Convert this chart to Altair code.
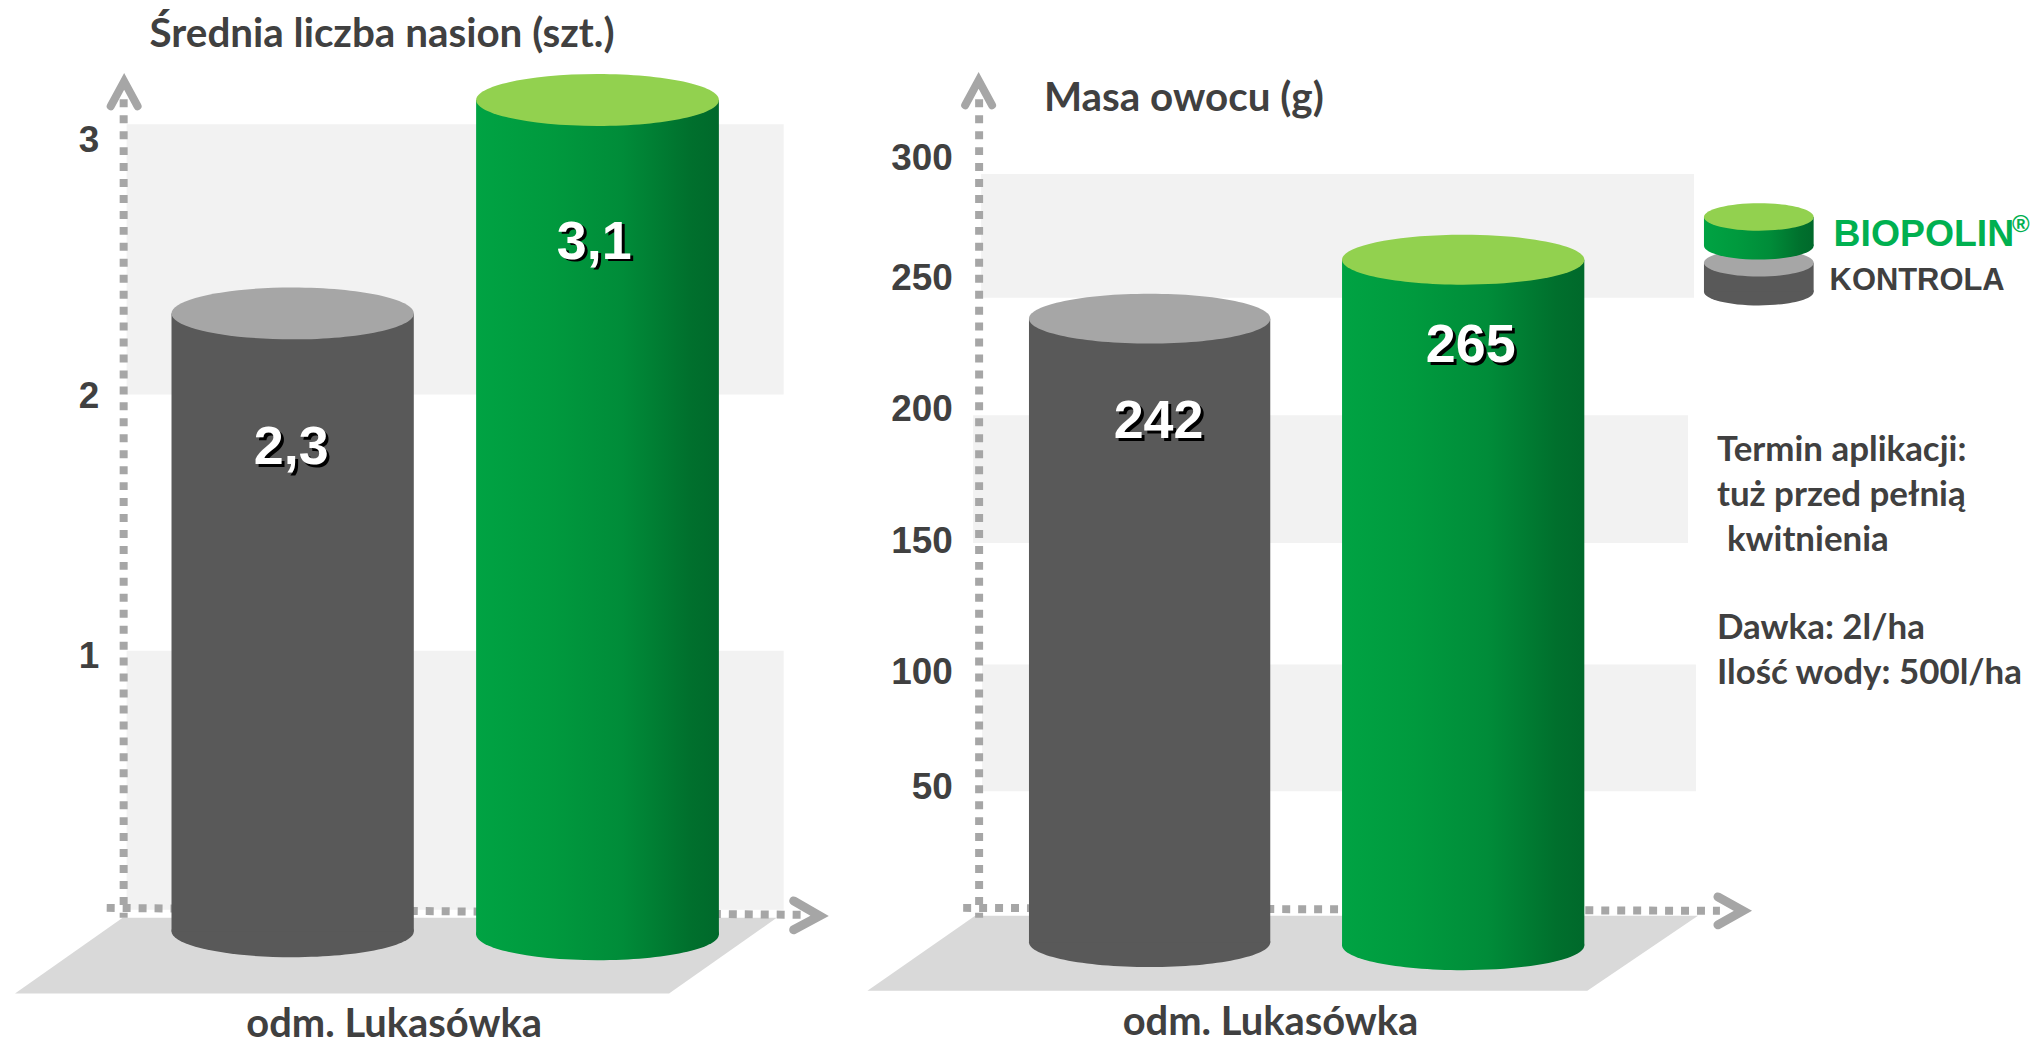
import altair as alt
import pandas as pd

# ---- chart values ----
categories = ["KONTROLA", "BIOPOLIN"]
seed_values = [2.3, 3.1]
mass_values = [242, 265]
seed_ticks = [1, 2, 3]
mass_ticks = [50, 100, 150, 200, 250, 300]
title_left = "Średnia liczba nasion (szt.)"
title_right = "Masa owocu (g)"
variety = "odm. Lukasówka"
notes = ["Termin aplikacji:", "tuż przed pełnią", "kwitnienia", "Dawka: 2l/ha", "Ilość wody: 500l/ha"]

# ---- styles ----
TEXT = "#404040"
DASH = "#A6A6A6"
BAND = "#F2F2F2"
FLOOR = "#D9D9D9"
GRAY_BODY = "#595959"
GRAY_TOP = "#A6A6A6"
GREEN_TOP = "#92D14F"
LEGEND_GREEN = "#00B050"
SANS = "Liberation Sans"
HUMAN = "Lato"
GREEN = alt.Gradient(
    gradient="linear", x1=0, x2=1, y1=0, y2=0,
    stops=[
        alt.GradientStop(offset=0, color="#00A343"),
        alt.GradientStop(offset=0.3, color="#009A3E"),
        alt.GradientStop(offset=0.6, color="#008C39"),
        alt.GradientStop(offset=0.88, color="#00702D"),
        alt.GradientStop(offset=1, color="#00692B"),
    ],
)
TOP, HEIGHT = 8, 1030


def ellipse(r):
    k = 0.5523
    return (f"M-1,0C-1,{-k*r:.4f} {-k:.4f},{-r:.4f} 0,{-r:.4f}"
            f"C{k:.4f},{-r:.4f} 1,{-k*r:.4f} 1,0"
            f"C1,{k*r:.4f} {k:.4f},{r:.4f} 0,{r:.4f}"
            f"C{-k:.4f},{r:.4f} -1,{k*r:.4f} -1,0Z")


class Panel:
    def __init__(self, x0, x1, zero_px, unit, positions, expr, label_right):
        self.x0, self.x1, self.zero, self.unit = x0, x1, zero_px, unit
        self.layers = []
        self.xs = alt.Scale(domain=[x0, x1], nice=False, zero=False)
        self.ys = alt.Scale(domain=[self.val(TOP + HEIGHT), self.val(TOP)], nice=False, zero=False)
        self.axis = alt.Axis(
            values=[self.val(p) for p in positions], labelExpr=expr, title=None, domain=False, ticks=False,
            grid=False, labelFont=SANS, labelFontWeight="bold", labelFontSize=37, labelColor=TEXT,
            labelPadding=0, labelBaseline="middle", labelAlign="right", offset=-(label_right - x0),
        )

    def val(self, py):
        return (self.zero - py) / self.unit

    def X(self, f="x"):
        return alt.X(f"{f}:Q", scale=self.xs, axis=None)

    def Y(self, f="y"):
        return alt.Y(f"{f}:Q", scale=self.ys, axis=self.axis)

    def band(self, xa, xb, ya, yb):
        d = pd.DataFrame({"x": [xa], "x1": [xb], "y": [self.val(ya)], "y1": [self.val(yb)]})
        self.layers.append(alt.Chart(d).mark_rect(color=BAND).encode(
            x=self.X(), x2="x1:Q", y=self.Y(), y2="y1:Q"))

    def floor(self, tl, tr, bl, br, ty, by):
        d = pd.DataFrame({"x": [tl, bl], "x1": [tr, br], "y": [self.val(ty), self.val(by)]})
        self.layers.append(alt.Chart(d).mark_area(orient="horizontal", color=FLOOR).encode(
            y=self.Y(), x=self.X(), x2="x1:Q"))

    def path(self, pts, width, dash=None, cap="butt"):
        d = pd.DataFrame({"x": [p[0] for p in pts], "y": [self.val(p[1]) for p in pts], "o": range(len(pts))})
        kw = dict(color=DASH, strokeWidth=width, strokeCap=cap, strokeJoin="miter")
        if dash:
            kw["strokeDash"] = dash
        self.layers.append(alt.Chart(d).mark_line(**kw).encode(
            x=self.X(), y=self.Y(), order="o:Q"))

    def cylinder(self, xa, xb, top_value, base_px, fill, top, ratio):
        size = (xb - xa) ** 2
        cx = (xa + xb) / 2
        d = pd.DataFrame({"x": [xa], "x1": [xb], "cx": [cx], "y": [top_value], "y1": [self.val(base_px)]})
        self.layers.append(alt.Chart(d).mark_point(
            shape=ellipse(ratio), filled=True, fill=fill, opacity=1, strokeWidth=0, size=size
        ).encode(x=self.X("cx"), y=self.Y("y1")))
        self.layers.append(alt.Chart(d).mark_rect(fill=fill).encode(
            x=self.X(), x2="x1:Q", y=self.Y(), y2="y1:Q"))
        self.layers.append(alt.Chart(d).mark_point(
            shape=ellipse(ratio), filled=True, fill=top, opacity=1, strokeWidth=0, size=size
        ).encode(x=self.X("cx"), y=self.Y("y")))

    def text(self, s, x, py, size, font=HUMAN, color=TEXT, align="left", baseline="alphabetic", **kw):
        d = pd.DataFrame({"x": [x], "y": [self.val(py)], "t": [s]})
        self.layers.append(alt.Chart(d).mark_text(
            font=font, fontSize=size, fontWeight="bold", color=color, align=align, baseline=baseline, **kw
        ).encode(x=self.X(), y=self.Y(), text="t:N"))

    def value_label(self, s, x, py):
        self.text(s, x + 3, py + 2.5, 54, font=SANS, color="#000000", align="center", baseline="middle")
        self.text(s, x, py, 54, font=SANS, color="#FFFFFF", align="center", baseline="middle")

    def chart(self):
        return alt.layer(*self.layers).properties(width=self.x1 - self.x0, height=HEIGHT)


# ---- left panel ----
L = Panel(7, 857, 928, 267.5, [657, 396, 139.5], "round(datum.value)", 98)
L.band(126, 785, 123, 394)
L.band(126, 785, 651, 911)
L.floor(122, 778, 14, 670, 919, 995)
L.path([(123, 98), (123, 919)], 8, dash=[8, 8])
L.path([(106, 909), (802, 916)], 8, dash=[8, 8])
L.path([(110, 105), (123.5, 80), (137, 105)], 8, cap="round")
L.path([(795, 902), (821, 917), (795, 931)], 9, cap="round")
L.cylinder(171, 414, seed_values[0], 932.5, GRAY_BODY, GRAY_TOP, 0.214)
L.cylinder(476.5, 720, seed_values[1], 935.5, GREEN, GREEN_TOP, 0.214)
L.value_label("2,3", 291, 448)
L.value_label("3,1", 595, 242)
L.text(title_left, 149, 46, 40.5)
L.text(variety, 246, 1039, 40)

# ---- right panel ----
R = Panel(855, 2027, 940, 2.57, [788, 672.5, 541.5, 409, 278, 157.5], "round(datum.value/50)*50", 952)
R.band(981, 1696, 173, 297)
R.band(973, 1690, 415, 543)
R.band(982, 1698, 665, 792)
R.floor(975, 1700, 867, 1589, 917, 992)
R.path([(979, 98), (979, 919)], 8, dash=[8, 8])
R.path([(963, 909), (1722, 912)], 8, dash=[8, 8])
R.path([(965, 104), (978.5, 79), (992, 104)], 8, cap="round")
R.path([(1720, 898), (1745, 912), (1720, 926)], 9, cap="round")
R.cylinder(1029, 1271, mass_values[0], 943.5, GRAY_BODY, GRAY_TOP, 0.206)
R.cylinder(1343, 1586, mass_values[1], 946.5, GREEN, GREEN_TOP, 0.206)
R.value_label(str(mass_values[0]), 1159, 422)
R.value_label(str(mass_values[1]), 1472, 346)
R.text(title_right, 1044, 110, 40.5)
R.text(variety, 1123, 1037, 40)
# legend
R.cylinder(1706, 1816, R.val(262), 291, GRAY_BODY, GRAY_TOP, 0.25)
R.cylinder(1706, 1816, R.val(216), 245, GREEN, GREEN_TOP, 0.25)
R.text(categories[1], 1836, 245, 37.5, font=SANS, color=LEGEND_GREEN)
R.text("®", 2015, 231, 24, font=SANS, color=LEGEND_GREEN)
R.text(categories[0], 1832, 289, 31, font=SANS)
for s, xp, yp in zip(notes, [1719, 1719, 1729, 1719, 1719], [461, 506, 551, 639, 684]):
    R.text(s, xp, yp, 35)

chart = (
    alt.hconcat(L.chart(), R.chart(), spacing=0)
    .properties(padding=0, bounds="flush")
    .configure_view(stroke=None)
)
chart.save("out.html", embed_options={"renderer": "svg", "actions": False})
